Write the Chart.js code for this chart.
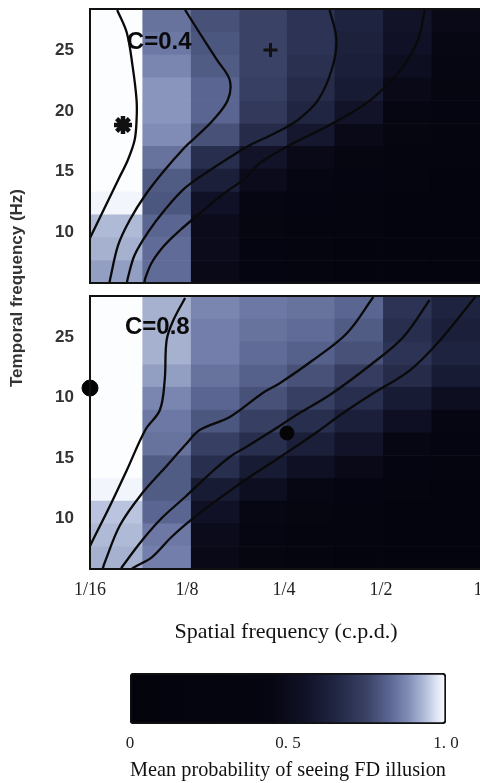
<!DOCTYPE html>
<html>
<head>
<meta charset="utf-8">
<script src="https://cdn.jsdelivr.net/npm/chart.js@4.4.1/dist/chart.umd.min.js"></script>
<style>
  html, body { margin: 0; padding: 0; background: #fff; width: 480px; height: 783px; overflow: hidden; position: relative; }
  .box { position: absolute; left: 0; width: 482px; }
  #yTitle {
    position: absolute; left: -132px; top: 277px; width: 300px; height: 22px; line-height: 22px;
    text-align: center; transform: rotate(-90deg);
    font: bold 17px "Liberation Sans", Arial, sans-serif; color: #333;
  }
</style>
</head>
<body>
<div class="box" style="top:0;height:290px"><canvas id="topChart"></canvas></div>
<div class="box" style="top:290px;height:360px"><canvas id="bottomChart"></canvas></div>
<div class="box" style="top:655px;height:128px"><canvas id="barChart"></canvas></div>
<div id="yTitle">Temporal frequency (Hz)</div>

<script>
// --- axes (spatial frequency in log2 c.p.d., temporal frequency in Hz) ---
const sfTicks = [-4, -3, -2, -1, 0];
const sfTickLabels = ['1/16', '1/8', '1/4', '1/2', '1'];
const tfTicks = [10, 15, 20, 25];
const lowTickLabels = ['10', '15', '20', '25'];
const highTickLabels = ['10', '15', '10', '25'];   // as printed in the figure

// cell edges of the probability map
const sfEdges = [-4, -3.46, -2.96, -2.46, -1.97, -1.48, -0.98, -0.48, 0.02, 0.5];
const tfEdges = [5.8, 7.68, 9.57, 11.45, 13.33, 15.22, 17.1, 18.98, 20.87, 22.75, 24.63, 26.52, 28.4];

// mean probability per cell, rows listed from the top (highest Hz) down
const lowContrastMap = [
  [1.0, 0.84, 0.78, 0.75, 0.70, 0.64, 0.56, 0.48, 0.40],
  [1.0, 0.85, 0.79, 0.75, 0.70, 0.63, 0.55, 0.46, 0.38],
  [1.0, 0.87, 0.80, 0.75, 0.69, 0.62, 0.52, 0.42, 0.35],
  [1.0, 0.89, 0.82, 0.74, 0.67, 0.60, 0.48, 0.38, 0.30],
  [1.0, 0.89, 0.82, 0.72, 0.65, 0.56, 0.44, 0.35, 0.30],
  [1.0, 0.88, 0.78, 0.67, 0.58, 0.48, 0.38, 0.30, 0.25],
  [1.0, 0.84, 0.68, 0.56, 0.48, 0.40, 0.32, 0.25, 0.20],
  [1.0, 0.80, 0.62, 0.50, 0.42, 0.34, 0.25, 0.20, 0.20],
  [0.99, 0.79, 0.55, 0.44, 0.36, 0.28, 0.20, 0.20, 0.20],
  [0.93, 0.82, 0.50, 0.40, 0.30, 0.24, 0.20, 0.20, 0.20],
  [0.92, 0.83, 0.50, 0.36, 0.28, 0.20, 0.20, 0.20, 0.20],
  [0.90, 0.83, 0.48, 0.34, 0.25, 0.20, 0.20, 0.20, 0.20]
];
const highContrastMap = [
  [1.0, 0.92, 0.87, 0.85, 0.84, 0.82, 0.70, 0.64, 0.62],
  [1.0, 0.92, 0.86, 0.84, 0.83, 0.80, 0.68, 0.62, 0.60],
  [1.0, 0.92, 0.86, 0.83, 0.81, 0.78, 0.70, 0.64, 0.55],
  [1.0, 0.90, 0.84, 0.81, 0.78, 0.73, 0.67, 0.60, 0.50],
  [1.0, 0.87, 0.82, 0.78, 0.74, 0.68, 0.60, 0.52, 0.42],
  [1.0, 0.85, 0.79, 0.74, 0.68, 0.62, 0.53, 0.45, 0.35],
  [1.0, 0.84, 0.74, 0.68, 0.62, 0.56, 0.46, 0.36, 0.28],
  [1.0, 0.80, 0.68, 0.60, 0.54, 0.48, 0.36, 0.28, 0.20],
  [0.99, 0.80, 0.60, 0.52, 0.46, 0.36, 0.28, 0.20, 0.20],
  [0.94, 0.82, 0.55, 0.46, 0.38, 0.28, 0.20, 0.20, 0.20],
  [0.93, 0.85, 0.50, 0.42, 0.32, 0.24, 0.20, 0.20, 0.20],
  [0.92, 0.86, 0.48, 0.38, 0.28, 0.20, 0.20, 0.20, 0.20]
];

// contour lines [log2 sf, Hz]
const lowContour1 = [[-3.72,28.32],[-3.62,26.42],[-3.56,23.62],[-3.52,20.89],[-3.52,19.24],[-3.54,17.59],[-3.61,15.95],[-3.71,14.30],[-3.81,12.65],[-3.90,11.16],[-3.97,10.01],[-4.0,9.51]];
const lowContour2 = [[-3.02,28.32],[-2.87,26.42],[-2.69,24.19],[-2.56,22.54],[-2.58,20.89],[-2.73,19.24],[-2.92,17.76],[-3.02,17.02],[-3.23,15.12],[-3.43,13.06],[-3.59,11.0],[-3.71,8.93],[-3.79,6.21],[-3.80,5.8]];
const lowContour3 = [[-1.53,28.32],[-1.46,25.84],[-1.51,23.37],[-1.65,20.89],[-1.86,19.24],[-2.09,18.17],[-2.35,17.18],[-2.47,16.61],[-2.76,15.12],[-3.02,13.64],[-3.23,11.82],[-3.40,10.01],[-3.54,8.11],[-3.61,6.21],[-3.62,5.8]];
const lowContour4 = [[-0.55,28.32],[-0.62,25.84],[-0.80,23.37],[-1.11,20.89],[-1.53,18.83],[-1.94,17.18],[-2.25,15.70],[-2.40,14.46],[-2.64,13.06],[-2.85,11.66],[-3.07,10.17],[-3.23,8.93],[-3.36,7.53],[-3.43,6.21],[-3.44,5.8]];
const highContour1 = [[-3.02,28.23],[-3.14,26.41],[-3.21,24.76],[-3.23,21.45],[-3.28,18.96],[-3.43,17.31],[-3.62,13.99],[-3.79,11.10],[-3.97,8.20],[-4.0,7.70]];
const highContour2 = [[-1.08,28.32],[-1.35,25.34],[-1.70,23.10],[-2.04,21.20],[-2.22,20.37],[-2.56,18.38],[-2.87,17.31],[-3.0,16.23],[-3.23,14.16],[-3.46,12.09],[-3.69,9.44],[-3.85,6.30],[-3.87,5.8]];
const highContour3 = [[-0.50,28.07],[-0.77,25.01],[-1.11,22.69],[-1.53,20.20],[-1.84,18.71],[-2.11,17.31],[-2.39,15.90],[-2.56,15.07],[-2.78,13.58],[-3.02,11.76],[-3.26,10.02],[-3.46,8.20],[-3.67,5.97],[-3.68,5.8]];
const highContour4 = [[-0.03,28.32],[-0.39,24.76],[-0.70,22.27],[-1.11,20.20],[-1.42,18.55],[-1.63,17.31],[-2.04,15.07],[-2.40,13.17],[-2.66,11.68],[-2.92,10.11],[-3.16,8.45],[-3.36,6.79],[-3.54,5.97],[-3.57,5.8]];

// symbols
const starPoint = [[-3.66, 18.83]];
const plusPoint = [[-2.14, 25.02]];
const edgeDot = [[-4, 20.78]];
const midDot = [[-1.97, 17.06]];

// colour scale of the probability
const barTicks = [0, 0.5, 1];
const barTickLabels = ['0', '0. 5', '1. 0'];
const cmapStops = [0, 0.45, 0.55, 0.65, 0.75, 0.82, 0.88, 0.93, 0.97, 1];
const cmapColors = [[3,3,12],[6,6,18],[16,17,38],[32,37,66],[58,66,102],[90,102,145],[128,140,182],[175,186,215],[222,228,242],[252,253,255]];

const SANS = '"Liberation Sans", Arial, sans-serif';
const SERIF = '"Liberation Serif", "Times New Roman", serif';

function colourFor(v) {
  v = Math.max(0, Math.min(1, v));
  for (let i = 1; i < cmapStops.length; i++) {
    if (v <= cmapStops[i]) {
      const t = (v - cmapStops[i - 1]) / (cmapStops[i] - cmapStops[i - 1]);
      const a = cmapColors[i - 1], b = cmapColors[i];
      return 'rgb(' + [0, 1, 2].map(k => Math.round(a[k] + (b[k] - a[k]) * t)).join(',') + ')';
    }
  }
  return 'rgb(' + cmapColors[cmapColors.length - 1].join(',') + ')';
}

function toXY(list) {
  return list.map(p => ({ x: p[0], y: p[1] }));
}

// draws the cells under the datasets, then the frame and the C= label on top
const heatPlugin = {
  id: 'heat',
  beforeDatasetsDraw(chart, args, opts) {
    const { ctx, chartArea, scales: { x, y } } = chart;
    const nRows = opts.grid.length;
    ctx.save();
    ctx.beginPath();
    ctx.rect(chartArea.left, chartArea.top, chartArea.width, chartArea.height);
    ctx.clip();
    opts.grid.forEach((row, r) => {
      const lo = tfEdges[nRows - 1 - r], hi = tfEdges[nRows - r];
      const yTop = y.getPixelForValue(hi), yBot = y.getPixelForValue(lo);
      row.forEach((v, c) => {
        const xL = x.getPixelForValue(sfEdges[c]), xR = x.getPixelForValue(sfEdges[c + 1]);
        ctx.fillStyle = colourFor(v);
        ctx.fillRect(xL, yTop, xR - xL + 0.6, yBot - yTop + 0.6);
      });
    });
    ctx.restore();
  },
  afterDatasetsDraw(chart, args, opts) {
    const { ctx, chartArea, scales: { x, y } } = chart;
    ctx.save();
    ctx.font = 'bold 24px ' + SANS;
    ctx.fillStyle = '#0a0a0a';
    ctx.textAlign = 'left';
    ctx.textBaseline = 'middle';
    ctx.fillText(opts.label, x.getPixelForValue(opts.labelAt[0]), y.getPixelForValue(opts.labelAt[1]));
    ctx.strokeStyle = '#111';
    ctx.lineWidth = 2;
    ctx.strokeRect(chartArea.left, chartArea.top, chartArea.width, chartArea.height);
    ctx.restore();
  }
};

function contourSet(points) {
  return {
    type: 'line', data: toXY(points), showLine: true, pointRadius: 0,
    borderColor: '#0a0a0a', borderWidth: 2.3, tension: 0.35, fill: false
  };
}

function panelOptions(grid, tickLabels, label, labelAt, showX, padding) {
  return {
    responsive: true,
    maintainAspectRatio: false,
    animation: false,
    layout: { padding: padding, autoPadding: false },
    plugins: {
      legend: { display: false },
      tooltip: { enabled: false },
      heat: { grid: grid, label: label, labelAt: labelAt }
    },
    scales: {
      x: {
        type: 'linear', min: -4, max: 0.04, display: showX,
        afterBuildTicks: s => { s.ticks = sfTicks.map(v => ({ value: v })); },
        ticks: {
          callback: (v, i) => sfTickLabels[i],
          font: { family: SERIF, size: 18 }, color: '#222', padding: 10,
          maxRotation: 0, autoSkip: false
        },
        grid: { display: false, drawTicks: false },
        border: { display: false },
        title: {
          display: true, text: 'Spatial frequency (c.p.d.)',
          font: { family: SERIF, size: 22 }, color: '#111', padding: { top: 0, bottom: 5 }
        },
        afterFit: s => {
          s.height = showX ? 81 : 0;
          s.paddingLeft = 0; s.paddingRight = 0;
        }
      },
      y: {
        type: 'linear', min: 5.8, max: 28.4,
        afterBuildTicks: s => { s.ticks = tfTicks.map(v => ({ value: v })); },
        ticks: {
          callback: (v, i) => tickLabels[i],
          font: { family: SANS, size: 17, weight: 'bold' }, color: '#333', padding: 16
        },
        grid: { display: false, drawTicks: false },
        border: { display: false },
        afterFit: s => { s.width = 90; s.paddingTop = 0; s.paddingBottom = 0; }
      }
    }
  };
}

new Chart(document.getElementById('topChart'), {
  type: 'scatter',
  data: {
    datasets: [
      contourSet(lowContour1), contourSet(lowContour2), contourSet(lowContour3), contourSet(lowContour4),
      { data: toXY(starPoint), pointStyle: 'star', pointRadius: 9, borderColor: '#111', borderWidth: 4.5 },
      { data: toXY(plusPoint), pointStyle: 'cross', pointRadius: 7, borderColor: '#111', borderWidth: 3 }
    ]
  },
  options: panelOptions(lowContrastMap, lowTickLabels, 'C=0.4', [-3.62, 25.68], false,
    { top: 9, bottom: 7, left: 0, right: 0 }),
  plugins: [heatPlugin]
});

new Chart(document.getElementById('bottomChart'), {
  type: 'scatter',
  data: {
    datasets: [
      contourSet(highContour1), contourSet(highContour2), contourSet(highContour3), contourSet(highContour4),
      { data: toXY(edgeDot), pointStyle: 'circle', pointRadius: 8, backgroundColor: '#050505', borderColor: '#050505', borderWidth: 1, clip: false },
      { data: toXY(midDot), pointStyle: 'circle', pointRadius: 7, backgroundColor: '#050505', borderColor: '#050505', borderWidth: 1 }
    ]
  },
  options: panelOptions(highContrastMap, highTickLabels, 'C=0.8', [-3.64, 25.83], true,
    { top: 6, bottom: 0, left: 0, right: 0 }),
  plugins: [heatPlugin]
});

// colour bar
new Chart(document.getElementById('barChart'), {
  type: 'bar',
  data: {
    labels: [''],
    datasets: [{
      data: [[0, 1]],
      backgroundColor: function(context) {
        const chart = context.chart;
        const x = chart.scales.x;
        if (!chart.chartArea || !x) return '#000';
        const g = chart.ctx.createLinearGradient(x.getPixelForValue(0), 0, x.getPixelForValue(1), 0);
        cmapStops.forEach((s, i) => g.addColorStop(s, 'rgb(' + cmapColors[i].join(',') + ')'));
        return g;
      },
      borderColor: '#111', borderWidth: 2, borderRadius: 4, borderSkipped: false,
      barPercentage: 1, categoryPercentage: 1
    }]
  },
  options: {
    indexAxis: 'y',
    responsive: true,
    maintainAspectRatio: false,
    animation: false,
    layout: { padding: { top: 18, bottom: 0, left: 130, right: 36 }, autoPadding: false },
    plugins: { legend: { display: false }, tooltip: { enabled: false } },
    scales: {
      x: {
        type: 'linear', min: 0, max: 1,
        afterBuildTicks: s => { s.ticks = barTicks.map(v => ({ value: v })); },
        ticks: {
          callback: (v, i) => barTickLabels[i],
          font: { family: SERIF, size: 17 }, color: '#222', padding: 9, maxRotation: 0
        },
        grid: { display: false, drawTicks: false },
        border: { display: false },
        title: {
          display: true, text: 'Mean probability of seeing FD illusion',
          font: { family: SERIF, size: 22 }, color: '#111', padding: { top: 0, bottom: 0 }
        },
        afterFit: s => { s.height = 59; s.paddingLeft = 0; s.paddingRight = 0; }
      },
      y: { display: false }
    }
  }
});
</script>
</body>
</html>
